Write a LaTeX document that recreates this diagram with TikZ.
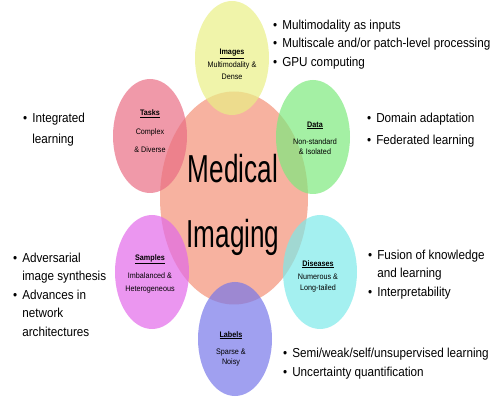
\documentclass[tikz,border=0pt]{standalone}
\usepackage{fontspec}
\setmainfont{Liberation Sans}[FakeStretch=0.9]
\newfontfamily\headfont{Liberation Sans}[FakeStretch=0.67]
\usetikzlibrary{shapes.geometric}

\definecolor{coreC}{RGB}{243,145,119}
\definecolor{imagesC}{RGB}{233,239,134}
\definecolor{tasksC}{RGB}{233,110,132}
\definecolor{dataC}{RGB}{126,233,126}
\definecolor{samplesC}{RGB}{226,105,233}
\definecolor{diseasesC}{RGB}{126,233,233}
\definecolor{labelsC}{RGB}{119,119,233}

% bullet lists
\newenvironment{pointlist}{\begin{tabular}[t]{@{}l@{\hspace{5pt}}l@{}}}{\end{tabular}}
\newcommand{\bul}{\textbullet &}

\begin{document}
\begin{tikzpicture}
  [
  x=1pt, y=-1pt,
  blob/.style={ellipse, inner sep=0pt, minimum width=74pt, minimum height=114pt, fill opacity=0.7},
  topic/.style={align=center, inner sep=0pt, font=\fontsize{8}{#1}\selectfont},
  points/.style={anchor=base west, inner sep=0pt, font=\fontsize{13}{#1}\selectfont},
  points/.default=18.5
  ]
\useasboundingbox (0,0) rectangle (493,398);

% ellipses
\node[blob, fill=coreC, minimum width=148pt, minimum height=213pt] (core) at (234,198) {};
\node[blob, fill=imagesC] (images) at (232,58) {};
\node[blob, fill=tasksC] (tasks) at (150,136) {};
\node[blob, fill=dataC] (data) at (313,137) {};
\node[blob, fill=samplesC] (samples) at (152,272) {};
\node[blob, fill=diseasesC] (diseases) at (320,272) {};
\node[blob, fill=labelsC] (labels) at (235,339) {};

% centre title
\node[font=\headfont\fontsize{39}{39}\selectfont, anchor=base, inner sep=0pt] (medical) at (233,183) {Medical};
\node[font=\headfont\fontsize{39}{39}\selectfont, anchor=base, inner sep=0pt] (imaging) at (233,248) {Imaging};

% topics
\node[topic=12.5] (images-txt) at (232,64.5) {\underline{\textbf{Images}}\\ Multimodality \&\\ Dense};
\node[topic=18.5] (tasks-txt) at (150,131.5) {\underline{\textbf{Tasks}}\\ Complex\\ \& Diverse};
\node[topic=10] (data-txt) at (315,138) {\underline{\textbf{Data}}\\[7pt] Non-standard\\ \& Isolated};
\node[topic=13] (samples-txt) at (150,273.5) {\underline{\textbf{Samples}}\\[5pt] Imbalanced \&\\ Heterogeneous};
\node[topic=11] (diseases-txt) at (318,276) {\underline{\textbf{Diseases}}\\[2pt] Numerous \&\\ Long-tailed};
\node[topic=9.5] (labels-txt) at (231,348.5) {\underline{\textbf{Labels}}\\[8pt] Sparse \&\\ Noisy};

% bullet points
\node[points] (images-pts) at (273,29.5) {\begin{pointlist}
  \bul Multimodality as inputs\\
  \bul Multiscale and/or patch-level processing\\
  \bul GPU computing
\end{pointlist}};
\node[points=21] (tasks-pts) at (23,122.5) {\begin{pointlist}
  \bul Integrated\\
  & learning
\end{pointlist}};
\node[points=22] (data-pts) at (367,122.5) {\begin{pointlist}
  \bul Domain adaptation\\
  \bul Federated learning
\end{pointlist}};
\node[points] (samples-pts) at (13,262.5) {\begin{pointlist}
  \bul Adversarial\\
  & image synthesis\\
  \bul Advances in\\
  & network\\
  & architectures
\end{pointlist}};
\node[points] (diseases-pts) at (368,259.5) {\begin{pointlist}
  \bul Fusion of knowledge\\
  & and learning\\
  \bul Interpretability
\end{pointlist}};
\node[points=19] (labels-pts) at (283,357) {\begin{pointlist}
  \bul Semi/weak/self/unsupervised learning\\
  \bul Uncertainty quantification
\end{pointlist}};
\end{tikzpicture}
\end{document}
